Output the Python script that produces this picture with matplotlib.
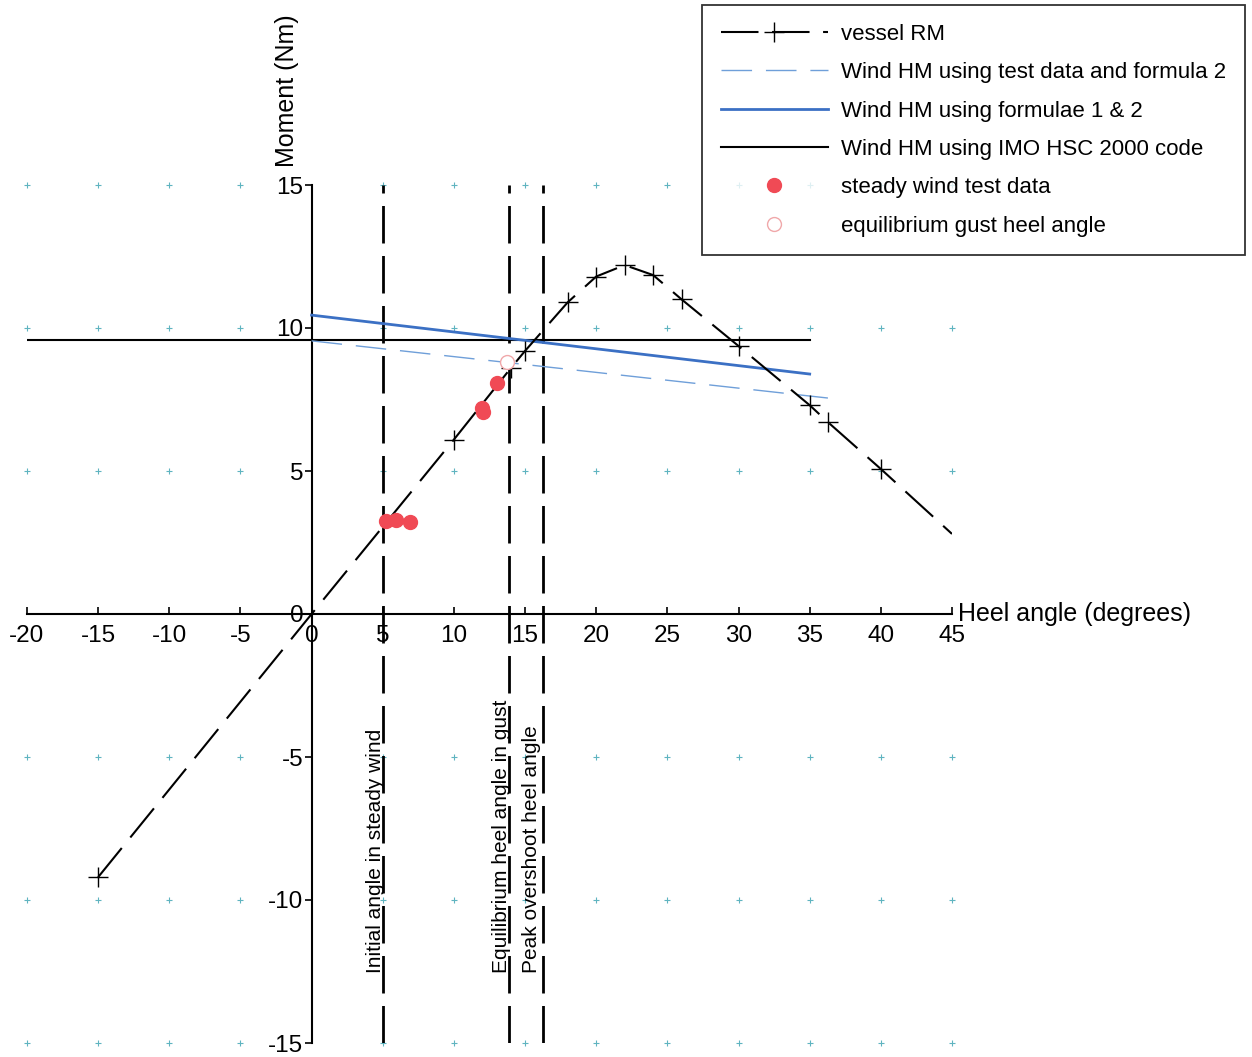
import matplotlib
matplotlib.use("Agg")
import matplotlib.pyplot as plt
from matplotlib.lines import Line2D
import numpy as np

plt.rcParams['font.family'] = ['Liberation Sans', 'DejaVu Sans']
plt.rcParams['axes.unicode_minus'] = False

# ---- data ----
rm_x = [-15, 0, 5, 10, 14, 15, 18, 20, 22, 24, 26, 30, 35, 36.3, 40, 45]
rm_y = [-9.2, 0.0, 3.05, 6.1, 8.6, 9.2, 10.9, 11.8, 12.2, 11.85, 11.0, 9.37, 7.3, 6.7, 5.07, 2.8]
rm_marked = [-15, 10, 14, 15, 18, 20, 22, 24, 26, 30, 35, 36.3, 40]

hm_test_x = [0, 36.3]
hm_test_y = [9.55, 7.55]

hm_form_x = [0, 35]
hm_form_y = [10.45, 8.39]

imo_x = [-20, 35]
imo_y = [9.58, 9.58]

steady_x = [5.2, 5.9, 6.9, 12.0, 12.05, 13.0]
steady_y = [3.25, 3.3, 3.2, 7.2, 7.05, 8.08]

gust_x = [13.7]
gust_y = [8.8]

vlines_x = [5.0, 13.85, 16.24]
vline_labels = ["Initial angle in steady wind",
                "Equilibrium heel angle in gust",
                "Peak overshoot heel angle"]

xticks = [-20, -15, -10, -5, 0, 5, 10, 15, 20, 25, 30, 35, 40, 45]
yticks = [-15, -10, -5, 0, 5, 10, 15]
grid_x = [-20, -15, -10, -5, 5, 10, 15, 20, 25, 30, 35, 40, 45]
grid_y = [-15, -10, -5, 5, 10, 15]

# ---- figure ----
fig = plt.figure(figsize=(12.52, 10.57), dpi=100)
ax = fig.add_axes([27/1252, 14/1057, 925/1252, 858/1057])
ax.set_xlim(-20, 45)
ax.set_ylim(-15, 15)
ax.patch.set_alpha(0)

for s in ['top', 'right']:
    ax.spines[s].set_visible(False)
ax.spines['left'].set_position(('data', 0))
ax.spines['bottom'].set_position(('data', 0))
for s in ['left', 'bottom']:
    ax.spines[s].set_linewidth(1.5)
    ax.spines[s].set_color('black')

ax.set_xticks(xticks)
ax.set_yticks(yticks)
ax.tick_params(axis='x', direction='in', length=5, width=1.2, labelsize=17.5, pad=8)
ax.tick_params(axis='y', direction='out', length=5, width=1.2, labelsize=17.5, pad=1)

# grid plus markers
gx, gy = np.meshgrid(grid_x, grid_y)
ax.plot(gx.ravel(), gy.ravel(), linestyle='none', marker='+', markersize=5,
        markeredgewidth=0.8, color='#5fb4c0', clip_on=False, zorder=1)

# vertical dashed lines
for vx in vlines_x:
    ax.plot([vx, vx], [-15, 15], color='black', lw=2, dashes=(13.5, 4.5), zorder=2)

# labels on vertical lines
ax.text(4.85, -12.55, vline_labels[0], rotation=90, rotation_mode='anchor',
        ha='left', va='baseline', fontsize=15)
ax.text(13.75, -12.55, vline_labels[1], rotation=90, rotation_mode='anchor',
        ha='left', va='baseline', fontsize=15)
ax.text(15.85, -12.55, vline_labels[2], rotation=90, rotation_mode='anchor',
        ha='left', va='baseline', fontsize=15)

# wind heeling moment lines
ax.plot(imo_x, imo_y, color='black', lw=1.5, zorder=3)
ax.plot(hm_form_x, hm_form_y, color='#3b70c4', lw=2, zorder=3)
ax.plot(hm_test_x, hm_test_y, color='#6f9fd9', lw=1, dashes=(22, 10), zorder=3)

# vessel RM
ax.plot(rm_x, rm_y, color='black', lw=1.5, dashes=(18, 6.5), zorder=4)
mk_y = [rm_y[rm_x.index(v)] for v in rm_marked]
ax.plot(rm_marked, mk_y, linestyle='none', marker='+', markersize=14,
        markeredgewidth=1.0, color='black', zorder=5)

# test data
ax.plot(steady_x, steady_y, linestyle='none', marker='o', markersize=10,
        color='#f04a55', markeredgecolor='#f04a55', zorder=6)
ax.plot(gust_x, gust_y, linestyle='none', marker='o', markersize=10,
        markerfacecolor='white', markeredgecolor='#f0a8aa', markeredgewidth=1, zorder=6)

# axis labels
ax.text(45.4, 0.0, "Heel angle (degrees)", ha='left', va='center', fontsize=18,
        clip_on=False)
ax.text(-1.7, 18.3, "Moment (Nm)", rotation=90, ha='center', va='center',
        fontsize=18, clip_on=False)

# legend
handles = [
    Line2D([], [], color='black', lw=1.5, dashes=(18, 6.5), marker='+',
           markersize=14, markeredgewidth=1.0, markevery=[1]),
    Line2D([], [], color='#6f9fd9', lw=1, dashes=(22, 10)),
    Line2D([], [], color='#3b70c4', lw=2),
    Line2D([], [], color='black', lw=1.5),
    Line2D([], [], linestyle='none', marker='o', markersize=10, color='#f04a55'),
    Line2D([], [], linestyle='none', marker='o', markersize=10,
           markerfacecolor='white', markeredgecolor='#f0a8aa'),
]
labels = ["vessel RM",
          "Wind HM using test data and formula 2",
          "Wind HM using formulae 1 & 2",
          "Wind HM using IMO HSC 2000 code",
          "steady wind test data",
          "equilibrium gust heel angle"]
leg = fig.legend(handles, labels, loc='upper left',
                 bbox_to_anchor=(702/1252, 1 - 5/1057), bbox_transform=fig.transFigure,
                 fontsize=16, frameon=True, fancybox=False, edgecolor='black',
                 handlelength=4.8, handletextpad=0.62, labelspacing=0.78,
                 borderpad=0.85, borderaxespad=0)
leg.get_frame().set_linewidth(1.3)

fig.savefig("out.png", dpi=100)
